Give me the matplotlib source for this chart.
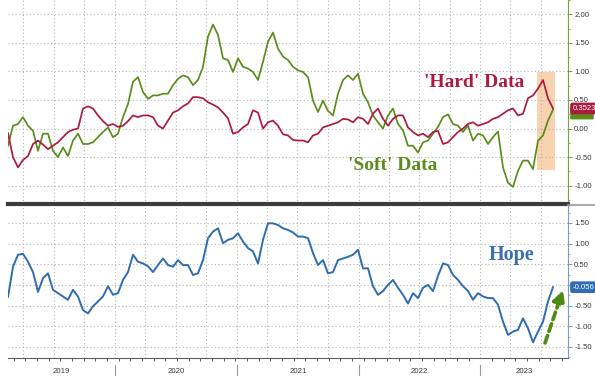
import numpy as np
import pandas as pd
import matplotlib
matplotlib.use("Agg")
import matplotlib.pyplot as plt
import matplotlib.dates as mdates
import matplotlib.transforms as mtransforms
from matplotlib.patches import Rectangle, FancyBboxPatch
from matplotlib.ticker import FormatStrFormatter, MultipleLocator, FuncFormatter

plt.rcParams["font.family"] = ["Liberation Sans", "DejaVu Sans"]

# semi-monthly observations
dates = pd.date_range("2019-02-14", periods=110, freq="15D")

hard_data = [
    -0.08, -0.50, -0.68, -0.55, -0.48, -0.27, -0.21, -0.28, -0.36, -0.30,
    -0.24, -0.15, -0.06, -0.02, 0.00, 0.35, 0.39, 0.35, 0.23, 0.13,
    0.05, 0.08, 0.03, 0.05, 0.13, 0.23, 0.20, 0.23, 0.23, 0.20,
    0.05, 0.00, 0.14, 0.28, 0.32, 0.39, 0.44, 0.55, 0.55, 0.53,
    0.46, 0.42, 0.37, 0.28, 0.18, -0.09, -0.06, 0.02, 0.08, 0.32,
    0.28, 0.00, 0.11, 0.14, 0.05, -0.10, -0.12, -0.20, -0.21, -0.21,
    -0.24, -0.12, -0.09, 0.02, 0.05, 0.08, 0.11, 0.17, 0.16, 0.11,
    0.20, 0.17, 0.08, 0.26, 0.35, 0.17, 0.05, 0.17, 0.23, 0.23,
    0.02, -0.06, -0.12, -0.09, -0.15, -0.06, -0.04, -0.27, -0.24, -0.15,
    -0.06, 0.00, 0.08, 0.11, 0.05, 0.08, 0.11, 0.17, 0.20, 0.26,
    0.32, 0.35, 0.23, 0.26, 0.53, 0.58, 0.70, 0.85, 0.53, 0.3523,
]

soft_data = [
    -0.30, 0.05, 0.08, 0.20, 0.05, -0.04, -0.39, -0.09, -0.09, -0.39,
    -0.50, -0.33, -0.48, -0.21, -0.09, -0.27, -0.27, -0.24, -0.15, -0.06,
    0.02, -0.15, -0.09, 0.20, 0.43, 0.82, 0.90, 0.64, 0.52, 0.58,
    0.58, 0.61, 0.61, 0.76, 0.87, 0.93, 0.90, 0.76, 0.85, 1.08,
    1.61, 1.82, 1.64, 1.23, 1.20, 0.99, 1.23, 1.08, 1.05, 0.99,
    0.85, 1.17, 1.52, 1.68, 1.40, 1.26, 1.20, 1.08, 1.02, 0.99,
    0.90, 0.49, 0.29, 0.49, 0.31, 0.23, 0.61, 0.85, 0.93, 0.85,
    0.96, 0.61, 0.46, 0.23, 0.11, 0.00, 0.23, 0.35, 0.08, -0.03,
    -0.30, -0.30, -0.42, -0.24, -0.21, -0.09, 0.03, 0.20, 0.25, 0.08,
    0.05, -0.06, 0.05, -0.21, -0.09, -0.12, -0.27, -0.15, -0.05, -0.68,
    -0.95, -1.02, -0.74, -0.56, -0.56, -0.71, -0.21, -0.12, 0.14, 0.33,
]

hope = [
    -0.29, 0.44, 0.73, 0.75, 0.56, 0.31, -0.17, 0.16, 0.28, -0.12,
    -0.20, -0.28, -0.36, -0.12, -0.28, -0.61, -0.69, -0.52, -0.40, -0.28,
    -0.03, -0.24, -0.20, 0.12, 0.31, 0.73, 0.56, 0.52, 0.45, 0.31,
    0.48, 0.64, 0.48, 0.44, 0.60, 0.48, 0.48, 0.24, 0.28, 0.60,
    1.13, 1.29, 1.37, 1.01, 1.09, 1.13, 1.25, 1.05, 0.89, 0.81,
    0.52, 1.09, 1.49, 1.49, 1.45, 1.37, 1.33, 1.27, 1.17, 1.17,
    1.13, 0.77, 0.48, 0.60, 0.28, 0.31, 0.60, 0.64, 0.68, 0.73,
    0.85, 0.40, 0.40, -0.03, -0.24, -0.15, 0.00, 0.12, -0.07, -0.24,
    -0.45, -0.20, -0.32, -0.07, 0.00, -0.15, 0.22, 0.52, 0.48, 0.24,
    0.12, -0.03, -0.15, -0.36, -0.20, -0.28, -0.32, -0.32, -0.48, -0.89,
    -1.21, -1.13, -1.09, -0.81, -1.05, -1.39, -1.13, -0.89, -0.40, -0.056,
]

top_ticks = [-1.0, -0.5, 0.0, 0.5, 1.0, 1.5, 2.0]
bottom_ticks = [-1.5, -1.0, -0.5, 0.0, 0.5, 1.0, 1.5]
years = [2019, 2020, 2021, 2022, 2023]

RED = "#ad1a40"
GREEN = "#5c8c1c"
BLUE = "#2f6cb0"
GRID = "#b4b4b4"

W, H = 595, 376
fig = plt.figure(figsize=(W / 100, H / 100), dpi=100)
fig.patch.set_facecolor("white")

ax1 = fig.add_axes([8 / W, 1 - 204 / H, 560 / W, 204 / H])
ax2 = fig.add_axes([8 / W, 1 - 358 / H, 560 / W, 152 / H])

x0 = dates[0]
x1 = dates[0] + pd.Timedelta(days=1680)

for ax in (ax1, ax2):
    ax.set_xlim(x0, x1)
    ax.set_facecolor("none")
    ax.spines["left"].set_visible(False)
    ax.spines["top"].set_visible(False)
    ax.yaxis.tick_right()
    ax.xaxis.set_major_locator(mdates.MonthLocator(bymonth=[1, 4, 7, 10]))
    ax.grid(True, which="major", color=GRID, linestyle=(0, (1, 2.2)), linewidth=0.8)
    ax.tick_params(axis="y", which="major", direction="out", length=3, width=0.8,
                   pad=1.5, labelsize=5.6, labelcolor="#3a3a3a")
    ax.tick_params(axis="y", which="minor", direction="out", length=1.5, width=0.6)
    ax.tick_params(axis="x", which="major", length=0, labelbottom=False)

# upper panel: hard vs soft data
ax1.set_ylim(-1.32, 2.25)
ax1.set_yticks(top_ticks)
ax1.yaxis.set_major_formatter(FormatStrFormatter("%.2f"))
ax1.yaxis.set_minor_locator(MultipleLocator(0.25))
ax1.spines["right"].set_color("#7f9e3e")
ax1.tick_params(axis="y", which="both", color="#7f9e3e")
ax1.spines["bottom"].set_color("#3c3c3c")
ax1.spines["bottom"].set_linewidth(3)
ax1.tick_params(axis="x", which="minor", length=0)

ax1.add_patch(Rectangle((0.945, 0.167), 0.032, 0.48, transform=ax1.transAxes,
                        facecolor="#f7c395", alpha=0.75, edgecolor="none", zorder=1))
ax1.plot(dates, soft_data, color=GREEN, lw=1.25, zorder=3)
ax1.plot(dates, hard_data, color=RED, lw=1.25, zorder=4)

ax1.text(0.833, 0.598, "'Hard' Data", transform=ax1.transAxes, ha="center", va="center",
         color=RED, fontsize=14, fontweight="bold",
         family=["Liberation Serif", "DejaVu Serif"])
ax1.text(0.6875, 0.191, "'Soft' Data", transform=ax1.transAxes, ha="center", va="center",
         color=GREEN, fontsize=14, fontweight="bold",
         family=["Liberation Serif", "DejaVu Serif"])

tr1 = mtransforms.blended_transform_factory(ax1.transAxes, ax1.transData)
# soft-data tag sits mostly hidden behind the hard-data tag
ax1.add_patch(FancyBboxPatch((1.004, soft_data[-1] - 0.17), 0.042, 0.2,
                             boxstyle="round,pad=0,rounding_size=0.004",
                             transform=tr1, fc=GREEN, ec="none", clip_on=False, zorder=5))
ax1.text(1.008, hard_data[-1], f"{hard_data[-1]:.4f}", transform=tr1, ha="left",
         va="center", fontsize=5.6, color="white", clip_on=False, zorder=6,
         bbox=dict(boxstyle="round,pad=0.3,rounding_size=0.3", fc=RED, ec="none"))

# lower panel: hope
ax2.set_ylim(-1.77, 1.91)
ax2.set_yticks(bottom_ticks)
ax2.yaxis.set_major_formatter(FuncFormatter(lambda v, p: "" if abs(v) < 1e-9 else f"{v:.2f}"))
ax2.yaxis.set_minor_locator(MultipleLocator(0.25))
ax2.spines["right"].set_color("#7c9cc8")
ax2.tick_params(axis="y", which="both", color="#7c9cc8")
ax2.spines["bottom"].set_color("#606060")
ax2.spines["bottom"].set_linewidth(0.8)
ax2.set_xticks(pd.date_range("2019-03-03", x1, freq="35D"), minor=True)
ax2.tick_params(axis="x", which="minor", direction="out", length=2.2, width=0.8,
                color="#606060")

ax2.plot(dates, hope, color=BLUE, lw=1.4, zorder=3)
ax2.text(0.9, 0.678, "Hope", transform=ax2.transAxes, ha="center", va="center",
         color="#3b6fb2", fontsize=14.5, fontweight="bold",
         family=["Liberation Serif", "DejaVu Serif"])

ax2.annotate("", xy=(0.991, 0.447), xytext=(0.959, 0.099),
             xycoords="axes fraction", textcoords="axes fraction",
             arrowprops=dict(arrowstyle="-|>,head_width=0.35,head_length=0.7",
                             color="#4f8a12", lw=2.6, linestyle=(0, (2.2, 1.2)),
                             shrinkA=0, shrinkB=0))

tr2 = mtransforms.blended_transform_factory(ax2.transAxes, ax2.transData)
ax2.text(1.008, hope[-1], f"{hope[-1]:.3f}", transform=tr2, ha="left", va="center",
         fontsize=5.6, color="white", clip_on=False, zorder=6,
         bbox=dict(boxstyle="round,pad=0.3,rounding_size=0.3", fc="#2f6cb0", ec="none"))

# year labels and separators below the axis
trx = mtransforms.blended_transform_factory(ax2.transData, ax2.transAxes)
for yr in years:
    start = max(pd.Timestamp(f"{yr}-01-01"), x0)
    end = min(pd.Timestamp(f"{yr + 1}-01-01"), x1)
    mid = start + (end - start) / 2
    ax2.text(mid, -0.088, str(yr), transform=trx, ha="center", va="center",
             fontsize=5.6, color="#3a3a3a", clip_on=False)
    if yr > years[0]:
        sep = pd.Timestamp(f"{yr}-01-01")
        ax2.plot([sep, sep], [-0.046, -0.12], transform=trx, color="#9a9a9a",
                 lw=0.8, clip_on=False)

# thin continuation of the divider to the right edge
fig.add_artist(plt.Line2D([568 / W, 1.0], [1 - 205 / H, 1 - 205 / H],
                          color="#9a9a9a", lw=1.2))

fig.savefig("out.png", dpi=100)
